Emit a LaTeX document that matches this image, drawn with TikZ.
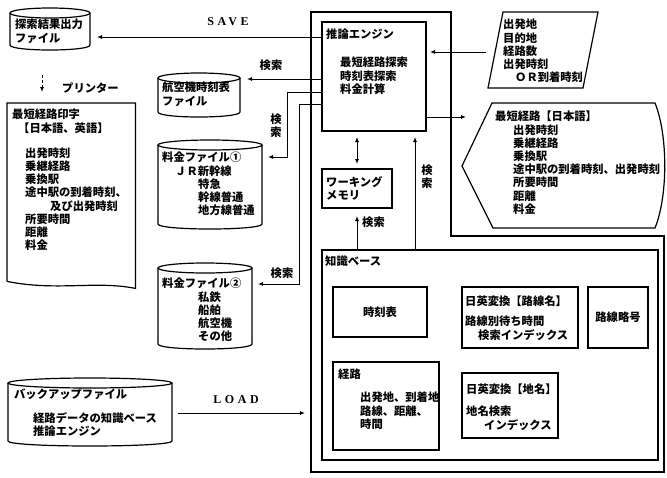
\documentclass[tikz,border=0pt]{standalone}
\usepackage{fontspec}
\newfontfamily\jp{Noto Sans CJK JP}
\newfontfamily\lat[LetterSpace=30]{Liberation Serif}
\usetikzlibrary{arrows.meta}
\tikzset{
  box/.style={draw, line width=1.2pt, inner sep=0pt, outer sep=0pt},
  txt/.style={font=\jp\bfseries\fontsize{11.3}{13.2}\selectfont, anchor=north west, inner sep=0pt, align=left},
  ctxt/.style={font=\jp\bfseries\fontsize{11.3}{13.2}\selectfont, inner sep=0pt, align=center},
  lbl/.style={font=\lat\bfseries\fontsize{12}{14}\selectfont, inner sep=0pt},
  arr/.style={line width=0.9pt, -{Latex[length=5pt,width=4pt]}},
  darr/.style={line width=0.9pt, {Latex[length=5pt,width=4pt]}-{Latex[length=5pt,width=4pt]}},
  ln/.style={line width=1.2pt},
}
\newcommand\drum[5]{%
  \node[inner sep=0pt, outer sep=0pt, minimum width=#4pt, minimum height=#5pt] (#1) at (#2,#3) {};
  \draw[ln] (#1.north) ellipse [x radius=#4pt/2, y radius=5pt];
  \draw[ln] (#1.north west) -- (#1.south west) .. controls +(0,6.67) and +(0,6.67) .. (#1.south east) -- (#1.north east);
}
\begin{document}
\begin{tikzpicture}[x=1pt, y=-1pt]
\useasboundingbox (0,0) rectangle (667,477);

% ---------- files ----------
\drum{file0}{50}{29}{80}{32}
\node[txt] (t-file0) at (15,19) {探索結果出力\\ファイル};
\drum{air}{199}{95}{82}{34}
\node[txt] (t-air) at (162,82) {航空機時刻表\\ファイル};
\drum{f1}{210}{184.5}{104}{79}
\node[txt] (t-f1) at (162,152) {料金ファイル①\\\hspace*{13pt}ＪＲ新幹線\\\hspace*{36pt}特急\\\hspace*{36pt}幹線普通\\\hspace*{36pt}地方線普通};
\drum{f2}{205}{306}{94}{76}
\node[txt] (t-f2) at (162,278) {料金ファイル②\\\hspace*{36pt}私鉄\\\hspace*{36pt}船舶\\\hspace*{36pt}航空機\\\hspace*{36pt}その他};
\drum{bak}{90}{412}{164}{58}
\node[txt] (t-bak1) at (14,389) {バックアップファイル};
\node[txt] (t-bak2) at (33,412) {経路データの知識ベース\\推論エンジン};

% ---------- printout (document symbol) ----------
\node[inner sep=0pt, minimum width=128, minimum height=178, anchor=north west] (doc) at (7,103) {};
\draw[ln] (doc.south west) -- (doc.north west) -- (doc.north east) -- ([yshift=-7pt]doc.south east)
  .. controls +(-40,-8) and +(50,10) .. (doc.south west);
\node[txt] (t-doc) at (12,109) {最短経路印字\\\hspace*{6pt}【日本語、英語】\\[12pt]\hspace*{13pt}出発時刻\\\hspace*{13pt}乗継経路\\\hspace*{13pt}乗換駅\\\hspace*{13pt}途中駅の到着時刻、\\\hspace*{38pt}及び出発時刻\\\hspace*{13pt}所要時間\\\hspace*{13pt}距離\\\hspace*{13pt}料金};
\coordinate (pra) at (42,75);
\draw[arr, dash pattern=on 3pt off 2pt, shorten >=11pt] (pra) -- (pra |- doc.north);
\node[txt, anchor=west] (t-pr) at (62,88) {プリンター};

% ---------- system border ----------
\draw[ln] (311,12) -- (451,12) -- (451,236) -- (664,236) -- (664,472) -- (311,472) -- cycle;

% ---------- engine ----------
\node[box, minimum width=104, minimum height=109, anchor=north west] (eng) at (322,22) {};
\node[txt] (t-eng1) at (326,29) {推論エンジン};
\node[txt] (t-eng2) at (340,57) {最短経路探索\\時刻表探索\\料金計算};

% ---------- working memory ----------
\node[box, minimum width=70, minimum height=39, anchor=north west] (wm) at (322,169) {};
\node[txt] (t-wm) at (326,176) {ワーキング\\メモリ};

% ---------- knowledge base ----------
\node[box, minimum width=336, minimum height=210, anchor=north west] (kb) at (322,250) {};
\node[txt] (t-kb) at (325,256) {知識ベース};
\node[box, minimum width=94, minimum height=50, anchor=north west] (tt) at (333,287) {};
\node[ctxt] (t-tt) at (tt.center) {時刻表};
\node[box, minimum width=116, minimum height=61, anchor=north west] (rn) at (462,287) {};
\node[txt] (t-rn1) at (465,296) {日英変換【路線名】};
\node[txt] (t-rn2) at (465,316) {路線別待ち時間\\\hspace*{13pt}検索インデックス};
\node[box, minimum width=60, minimum height=61, anchor=north west] (ra) at (588,287) {};
\node[ctxt] (t-ra) at (ra.center) {路線略号};
\node[box, minimum width=106, minimum height=88, anchor=north west] (rt) at (333,362) {};
\node[txt] (t-rt1) at (338,369) {経路};
\node[txt] (t-rt2) at (360,392) {出発地、到着地\\路線、距離、\\時間};
\node[box, minimum width=96, minimum height=65, anchor=north west] (pn) at (462,373) {};
\node[txt] (t-pn1) at (466,384) {日英変換【地名】};
\node[txt] (t-pn2) at (466,406) {地名検索\\\hspace*{18pt}インデックス};

% ---------- input (parallelogram) ----------
\draw[ln] (503,12) -- (598,12) -- (583,88) -- (488,88) -- cycle;
\node[txt] (t-inp) at (503,19) {出発地\\目的地\\経路数\\出発時刻\\\hspace*{12pt}ＯＲ到着時刻};
\coordinate (inp-in) at (486,52);

% ---------- output (display) ----------
\draw[ln] (492,103) -- (655,103) .. controls (668,135) and (668,196) .. (655,228) -- (493,228) -- (462,166) -- cycle;
\node[txt] (t-disp) at (495,111) {最短経路【日本語】\\\hspace*{18pt}出発時刻\\\hspace*{18pt}乗継経路\\\hspace*{18pt}乗換駅\\\hspace*{18pt}途中駅の到着時刻、出発時刻\\\hspace*{18pt}所要時間\\\hspace*{18pt}距離\\\hspace*{18pt}料金};
\coordinate (disp-in) at (466,117);

% ---------- connectors ----------
\draw[arr, shorten >=7pt] (eng.west |- 0,37) -- (file0.east |- 0,37);
\node[lbl] (l-save) at (228,22) {SAVE};
\draw[arr, shorten >=7pt] (eng.west |- 0,79) -- (air.east |- 0,79);
\node[ctxt] (l-s1) at (271,65) {検索};
\draw[arr, shorten >=6pt] (eng.west |- 0,92) -- (287,92) |- (f1.east |- 0,157);
\node[ctxt] (l-s2) at (276,126) {検\\索};
\draw[arr, shorten >=6pt] (eng.west |- 0,104) -- (299,104) |- (f2.east |- 0,284);
\node[ctxt] (l-s3) at (282,273) {検索};
\draw[arr, shorten <=6pt, shorten >=6pt] (bak.east |- 0,413) -- (311,413);
\node[lbl] (l-load) at (236,400) {LOAD};
\draw[darr, shorten <=6pt, shorten >=5pt] (wm.north |- eng.south) -- (wm.north);
\draw[arr, shorten >=8pt] (wm.south |- kb.north) -- (wm.south);
\node[ctxt, anchor=west] (l-s4) at (362,222) {検索};
\coordinate (kbx) at (415,0);
\draw[arr, shorten >=6pt] (kb.north -| kbx) -- (eng.south -| kbx);
\node[ctxt] (l-s5) at (427,177) {検\\索};
\draw[arr] (eng.east |- disp-in) -- (disp-in);
\draw[arr, shorten >=4pt] (inp-in) -- (eng.east |- inp-in);
\end{tikzpicture}
\end{document}
